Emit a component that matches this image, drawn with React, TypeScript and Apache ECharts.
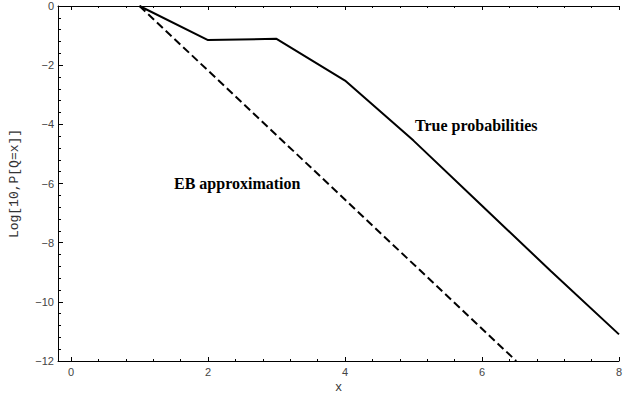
import React, { useEffect, useRef } from "react";
import * as echarts from "echarts";

// Data: log10 of P[Q = x]
const trueX = [1, 2, 3, 4, 5, 6, 7, 8];
const trueY = [0, -1.15, -1.11, -2.52, -4.55, -6.75, -8.95, -11.1];
const ebX = [1, 6.5];
const ebY = [0, -12];

// Tick positions
const xMajorTicks = [0, 2, 4, 6, 8];
const xMinorTicks = [0.4, 0.8, 1.2, 1.6, 2.4, 2.8, 3.2, 3.6, 4.4, 4.8, 5.2, 5.6, 6.4, 6.8, 7.2, 7.6];

const labelFont = '"Liberation Sans", Arial, sans-serif';
const monoFont = '"Liberation Mono", "Courier New", monospace';
const serifFont = '"Liberation Serif", "Times New Roman", serif';

export default function App() {
  const ref = useRef<HTMLDivElement>(null);

  useEffect(() => {
    if (!ref.current) return;
    const chart = echarts.init(ref.current, undefined, { renderer: "svg" });

    const baseX = {
      type: "value" as const,
      min: -0.19,
      max: 8,
      splitLine: { show: false },
    };

    chart.setOption({
      animation: false,
      backgroundColor: "#ffffff",
      grid: {
        left: 58,
        right: 7,
        top: 6,
        bottom: 33,
        containLabel: false,
        outerBoundsMode: "none",
      },
      xAxis: [
        {
          ...baseX,
          position: "bottom",
          axisLine: { show: true, onZero: false, lineStyle: { color: "#000", width: 1 } },
          axisTick: { show: true, inside: true, length: 4, customValues: xMajorTicks, lineStyle: { color: "#000" } },
          axisLabel: {
            show: true,
            customValues: xMajorTicks,
            color: "#444",
            fontFamily: labelFont,
            fontSize: 11,
            margin: 5,
          },
          name: "x",
          nameLocation: "middle",
          nameGap: 16,
          nameTextStyle: { fontFamily: monoFont, fontSize: 12, lineHeight: 12, color: "#333" },
        },
        {
          ...baseX,
          position: "bottom",
          axisLine: { show: false, onZero: false },
          axisTick: { show: true, inside: true, length: 2, customValues: xMinorTicks, lineStyle: { color: "#000" } },
          axisLabel: { show: false },
        },
        {
          ...baseX,
          position: "top",
          axisLine: { show: true, onZero: false, lineStyle: { color: "#000", width: 1 } },
          axisTick: { show: true, inside: true, length: 4, customValues: xMajorTicks, lineStyle: { color: "#000" } },
          axisLabel: { show: false },
        },
        {
          ...baseX,
          position: "top",
          axisLine: { show: false, onZero: false },
          axisTick: { show: true, inside: true, length: 2, customValues: xMinorTicks, lineStyle: { color: "#000" } },
          axisLabel: { show: false },
        },
      ],
      yAxis: {
        type: "value",
        min: -12,
        max: 0,
        interval: 2,
        splitLine: { show: false },
        axisLine: { show: true, onZero: false, lineStyle: { color: "#000", width: 1 } },
        axisTick: { show: true, inside: true, length: 5, lineStyle: { color: "#000" } },
        minorTick: { show: true, splitNumber: 5, length: 3, lineStyle: { color: "#000" } },
        axisLabel: {
          color: "#444",
          fontFamily: labelFont,
          fontSize: 11,
          margin: 4,
          formatter: (v: number) => String(v).replace("-", "\u2212"),
        },
        name: "Log[10,P[Q=x]]",
        nameLocation: "middle",
        nameRotate: 90,
        nameGap: 37,
        nameTextStyle: { fontFamily: monoFont, fontSize: 13, color: "#333" },
      },
      series: [
        {
          name: "True probabilities",
          type: "line",
          xAxisIndex: 0,
          data: trueX.map((x, i) => [x, trueY[i]]),
          symbol: "none",
          lineStyle: { color: "#000", width: 2 },
          clip: true,
        },
        {
          name: "EB approximation",
          type: "line",
          xAxisIndex: 0,
          data: ebX.map((x, i) => [x, ebY[i]]),
          symbol: "none",
          lineStyle: { color: "#000", width: 2, type: [8, 4] },
          clip: true,
        },
      ],
      graphic: [
        {
          type: "text",
          left: 415,
          top: 117,
          style: { text: "True probabilities", font: `bold 16px ${serifFont}`, fill: "#000" },
        },
        {
          type: "text",
          left: 174,
          top: 175,
          style: { text: "EB approximation", font: `bold 16px ${serifFont}`, fill: "#000" },
        },
      ],
    });

    return () => chart.dispose();
  }, []);

  return (
    <div
      ref={ref}
      style={{ position: "fixed", left: 0, top: 0, width: 626, height: 394, background: "#fff" }}
    />
  );
}
